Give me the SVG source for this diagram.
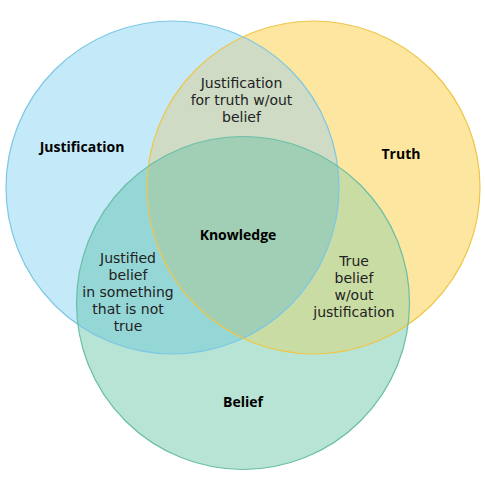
<svg xmlns="http://www.w3.org/2000/svg" width="485" height="490" viewBox="0 0 485 490">
  <style>
    .lbl { font-family: "DejaVu Sans", "Liberation Sans", sans-serif; font-size: 14px; fill: #222; text-anchor: middle; }
    .ttl { font-family: "Open Sans", "Liberation Sans", sans-serif; font-size: 14px; font-weight: bold; fill: #000; text-anchor: middle; }
    .edge { fill: none; stroke-width: 1.2; }
  </style>
  <defs>
    <clipPath id="clipJ"><circle cx="172.5" cy="187.5" r="166.5"/></clipPath>
    <clipPath id="clipT"><circle cx="313.5" cy="187.5" r="166.5"/></clipPath>
  </defs>
  <rect width="485" height="490" fill="#ffffff"/>
  <g id="fills">
    <circle cx="172.5" cy="187.5" r="166.5" fill="#c4e9f9"/>
    <circle cx="313.5" cy="187.5" r="166.5" fill="#fde69f"/>
    <circle cx="243" cy="303" r="166.5" fill="#b7e4d5"/>
    <circle cx="313.5" cy="187.5" r="166.5" fill="#cfdbc5" clip-path="url(#clipJ)"/>
    <circle cx="243" cy="303" r="166.5" fill="#95d6d6" clip-path="url(#clipJ)"/>
    <circle cx="243" cy="303" r="166.5" fill="#c9dca3" clip-path="url(#clipT)"/>
    <g clip-path="url(#clipT)">
      <circle cx="243" cy="303" r="166.5" fill="#a0cfb6" clip-path="url(#clipJ)"/>
    </g>
  </g>
  <g id="justification">
    <circle class="edge" cx="172.5" cy="187.5" r="166.5" stroke="#7cc7e4"/>
    <text class="ttl" x="82" y="152">Justification</text>
  </g>
  <g id="truth">
    <circle class="edge" cx="313.5" cy="187.5" r="166.5" stroke="#eec64a"/>
    <text class="ttl" x="401" y="159">Truth</text>
  </g>
  <g id="belief">
    <circle class="edge" cx="243" cy="303" r="166.5" stroke="#6abfa6"/>
    <text class="ttl" x="243" y="407">Belief</text>
  </g>
  <g id="knowledge">
    <text class="ttl" x="238" y="240">Knowledge</text>
  </g>
  <g id="justification-truth">
    <text class="lbl" x="241.5" y="88">Justification</text>
    <text class="lbl" x="241.5" y="105">for truth w/out</text>
    <text class="lbl" x="241.5" y="122">belief</text>
  </g>
  <g id="justification-belief">
    <text class="lbl" x="128" y="263">Justified</text>
    <text class="lbl" x="128" y="280">belief</text>
    <text class="lbl" x="128" y="297">in something</text>
    <text class="lbl" x="128" y="314">that is not</text>
    <text class="lbl" x="128" y="331">true</text>
  </g>
  <g id="truth-belief">
    <text class="lbl" x="354" y="266">True</text>
    <text class="lbl" x="354" y="283">belief</text>
    <text class="lbl" x="354" y="300">w/out</text>
    <text class="lbl" x="354" y="317">justification</text>
  </g>
  <g id="connectors"/>
</svg>
